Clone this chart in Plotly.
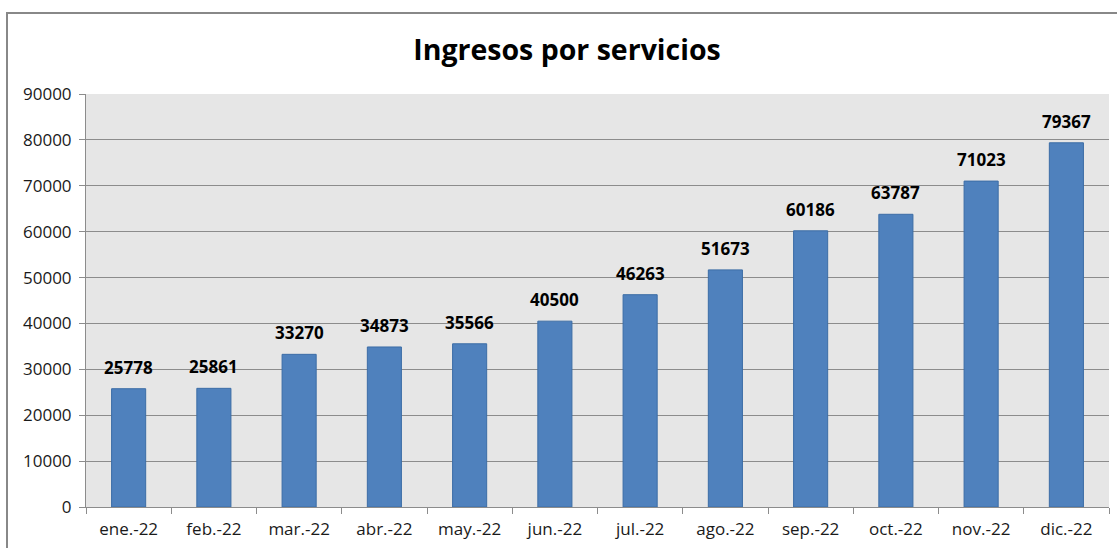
import plotly.graph_objects as go

months = ["ene.-22", "feb.-22", "mar.-22", "abr.-22", "may.-22", "jun.-22",
          "jul.-22", "ago.-22", "sep.-22", "oct.-22", "nov.-22", "dic.-22"]
ingresos = [25778, 25861, 33270, 34873, 35566, 40500,
            46263, 51673, 60186, 63787, 71023, 79367]
y_ticks = [0, 10000, 20000, 30000, 40000, 50000, 60000, 70000, 80000, 90000]
title_text = "Ingresos por servicios"

W, H = 1117, 548
L, R, T, B = 86, 8, 94, 41
pw = W - L - R
ph = H - T - B

fig = go.Figure()
fig.add_trace(go.Bar(
    x=months, y=ingresos,
    marker=dict(color="#4f81bd", line=dict(color="#3c6da6", width=1)),
    hoverinfo="x+y",
))

for m, v in zip(months, ingresos):
    fig.add_annotation(
        x=m, y=v, xref="x", yref="y",
        text=str(v), showarrow=False,
        yanchor="bottom", yshift=8,
        font=dict(family="Open Sans", size=17, color="#000000", weight="bold"),
    )

fig.update_layout(
    width=W, height=H,
    margin=dict(l=L, r=R, t=T, b=B, autoexpand=False),
    paper_bgcolor="white",
    plot_bgcolor="#e6e6e6",
    bargap=0.6,
    showlegend=False,
    title=dict(text=title_text, x=567 / W, xanchor="center",
               y=1 - 50 / H, yanchor="middle", yref="container",
               font=dict(family="Open Sans", size=28.5, color="#000000", weight="bold")),
    font=dict(family="Open Sans", color="#1a1a1a"),
)

fig.update_xaxes(
    type="category",
    tickson="boundaries",
    ticks="outside", ticklen=6, tickcolor="#8c8c8c",
    showline=True, linecolor="#8c8c8c", linewidth=1,
    showgrid=False,
    tickfont=dict(family="Open Sans", size=17, color="#1a1a1a"),
    ticklabelstandoff=7,
)
fig.update_yaxes(
    range=[0, 90000],
    tickvals=y_ticks,
    ticktext=[str(v) for v in y_ticks],
    ticks="outside", ticklen=6, tickcolor="#8c8c8c",
    showline=True, linecolor="#8c8c8c", linewidth=1,
    showgrid=True, gridcolor="#8c8c8c", gridwidth=1,
    zeroline=False,
    tickfont=dict(family="Open Sans", size=17, color="#1a1a1a"),
    ticklabelstandoff=4,
)

# outer chart border
fig.add_shape(
    type="rect", xref="paper", yref="paper",
    x0=(7 - L) / pw, x1=(W + 20 - L) / pw,
    y0=-(B + 20) / ph, y1=(H - B - 13) / ph,
    line=dict(color="#888888", width=2), fillcolor="rgba(0,0,0,0)",
    layer="below",
)

fig.write_html("out.html", config={"displayModeBar": False},
               post_script="document.body.style.margin='0';")
